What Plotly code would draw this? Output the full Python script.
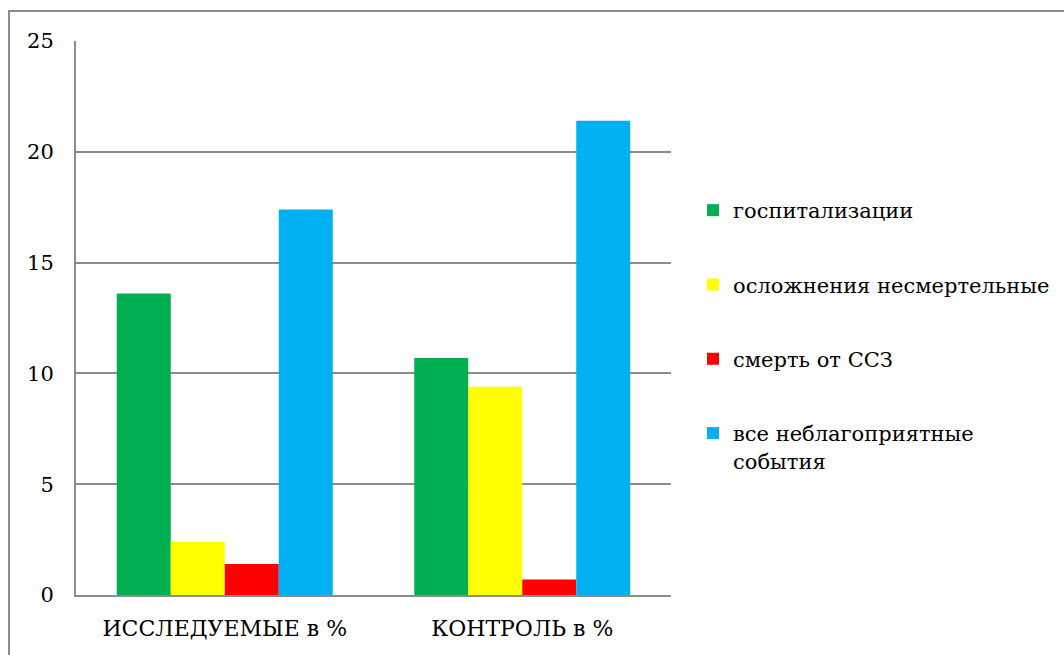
import plotly.graph_objects as go

categories = ["ИССЛЕДУЕМЫЕ в %", "КОНТРОЛЬ в %"]
series_names = ["госпитализации", "осложнения несмертельные", "смерть от ССЗ",
                "все неблагоприятные<br>события"]
hosp = [13.6, 10.7]
compl = [2.4, 9.4]
death = [1.4, 0.7]
all_events = [17.4, 21.4]
colors = ["#00B050", "#FFFF00", "#FF0000", "#00B0F0"]
y_ticks = [0, 5, 10, 15, 20, 25]

W, H = 1064, 655
ML, MR, MT, MB = 76, 393, 41, 60
PW, PH = W - ML - MR, H - MT - MB
FONT = "DejaVu Serif"

fig = go.Figure()
for i, (name, vals) in enumerate(zip(series_names, [hosp, compl, death, all_events])):
    fig.add_trace(go.Bar(x=categories, y=vals, name=name, legendgroup=f"g{i}",
                         marker=dict(color=colors[i], line=dict(width=0))))

def px_x(x):
    return (x - ML) / PW

def px_y(y):
    return (H - MB - y) / PH

fig.update_layout(
    width=W, height=H,
    margin=dict(l=ML, r=MR, t=MT, b=MB, pad=0, autoexpand=False),
    paper_bgcolor="white", plot_bgcolor="white",
    font=dict(family=FONT, size=21, color="black"),
    barmode="group", bargap=0.274, bargroupgap=0,
    showlegend=True,
    legend=dict(x=px_x(693), xanchor="left", y=px_y(190), yanchor="top",
                tracegroupgap=44, valign="top", font=dict(size=21, family=FONT),
                bgcolor="rgba(0,0,0,0)", borderwidth=0),
    xaxis=dict(range=[-0.5, 1.5], showline=True, linecolor="#8c8c8c", linewidth=2,
               showgrid=False, ticks="", ticklabelstandoff=13,
               tickfont=dict(size=22, family=FONT)),
    yaxis=dict(range=[0, 25], tickvals=y_ticks, showline=True, linecolor="#8c8c8c",
               linewidth=2, showgrid=True, gridcolor="#8c8c8c", gridwidth=2,
               zeroline=False, ticks="", ticklabelstandoff=16,
               tickfont=dict(size=21, family=FONT)),
    shapes=[dict(type="rect", xref="paper", yref="paper",
                 x0=px_x(9), x1=px_x(1200), y0=px_y(800), y1=px_y(11),
                 line=dict(color="#8c8c8c", width=2), fillcolor="rgba(0,0,0,0)",
                 layer="above")],
)

fig.write_html("out.html")
